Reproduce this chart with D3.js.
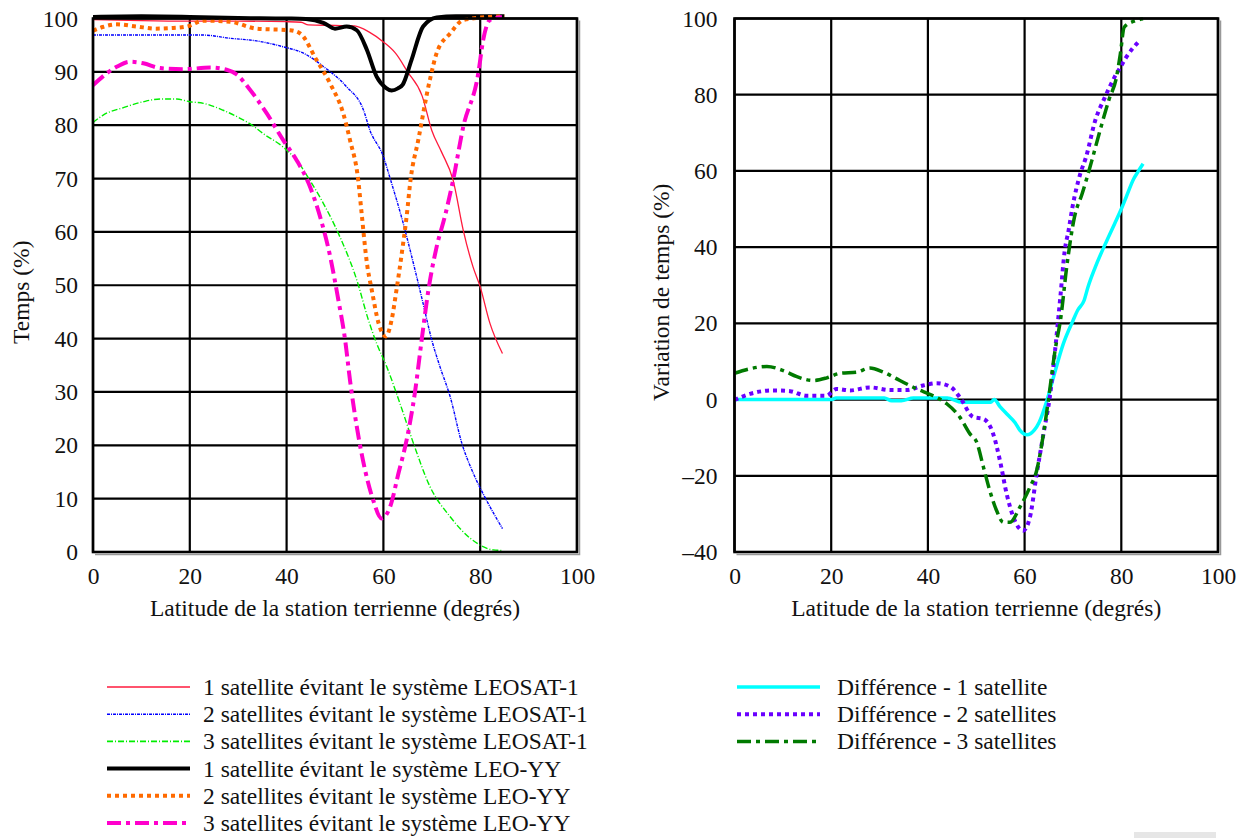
<!DOCTYPE html>
<html><head><meta charset="utf-8">
<script src="https://cdn.jsdelivr.net/npm/d3@7"></script>
<style>body{margin:0;background:#fff}svg text{font-family:"Liberation Serif","Times New Roman",serif;fill:#111}</style>
</head><body>
<svg id="c" width="1241" height="838"></svg>
<script>
// ---------- data ----------
const xTicks = [0, 20, 40, 60, 80, 100];
const yTicksLeft = [0, 10, 20, 30, 40, 50, 60, 70, 80, 90, 100];
const yTicksRight = [-40, -20, 0, 20, 40, 60, 80, 100];

const leosat1 = [[0,99.8],[5,99.7],[10,99.6],[20,99.5],[30,99.5],[40,99.4],[43,99.3],[44.5,98.8],[50,98.7],[54,98.6],[57,97.5],[60,95.6],[62.5,93.5],[65,90],[68,85.5],[70,79],[72,75],[74.4,69.7],[76.5,60.3],[78.5,53.5],[80,49.7],[82,42.9],[84.6,37.2]];
const leosat2 = [[0,96.9],[10,96.9],[22.7,96.9],[28.3,96.3],[33.8,95.8],[39.3,94.7],[43.5,93.5],[47.6,91],[52.4,87.2],[55.9,82.8],[57.2,79.1],[60,74.1],[61.4,70],[64.1,61.6],[66.2,54.1],[68.2,46.6],[70,39.7],[71.7,34.7],[73.8,29.1],[76.2,20.4],[78.6,14.7],[81.3,9.7],[84.6,4.4]];
const leosat3 = [[0,80.5],[2.1,81.9],[6.3,83.3],[10.4,84.4],[13.9,84.9],[17.3,84.9],[20,84.4],[22.8,84.1],[26.9,82.8],[30.4,81.3],[32.4,80.3],[35.2,78.4],[39.3,75.9],[42.1,73.4],[44.8,69.7],[47.2,66],[51,59.1],[54.5,51],[56.9,43.5],[58.6,39.1],[60.7,34.7],[63.4,27.9],[66.2,20.4],[69.6,12.3],[73.8,6.6],[77.9,2.6],[82.7,0.4],[84.6,0.3]];
const leoyy1 = [[0,100.3],[10,100.4],[20,100.3],[30,100.1],[40,100],[44,99.9],[47.6,99.2],[50,98.1],[52.4,98.5],[54.5,97.8],[56.6,94.1],[58.6,89.1],[60.5,87],[61.7,86.5],[63,86.9],[64,87.6],[65.8,92.2],[68.2,98.5],[71,100.2],[75,100.4],[85,100.4]];
const leoyy2 = [[0,97.7],[2,98.4],[4.9,98.9],[9,98.5],[13,98.1],[16,98.2],[19.4,98.5],[22.8,99.6],[28.3,99.4],[33.8,98.1],[40.7,97.8],[42.8,97.2],[46.2,92.2],[49,87.8],[51.7,82.2],[53.1,77.2],[54.8,69.7],[55.5,63.5],[56.6,54.1],[57.6,49.1],[59,42.9],[60.5,40.4],[61.7,43.5],[62.7,49.1],[63.8,56],[64.8,62.9],[65.6,69.7],[67.2,77.2],[69.6,88.5],[71,93.5],[73.8,97.2],[76.5,99.7],[82,100.3],[85,100.4]];
const leoyy3 = [[0,87.5],[2.8,89.7],[5,91],[7.6,91.9],[10.4,91.6],[13.9,90.7],[18.7,90.5],[24.2,90.8],[27.6,90.4],[29.7,89.5],[32.4,86.7],[35.9,82.2],[39.3,77.2],[42.1,73.4],[44.5,69.2],[46.9,62.9],[49,55.4],[50.7,47.2],[52.1,39.7],[53.1,32.2],[54.5,23.5],[56.2,15.4],[57.9,9.7],[59.6,6.3],[61.4,8.5],[63.1,14.7],[64.8,21],[66.5,29.8],[67.9,39.7],[69.3,49.1],[71,57.2],[72.7,62.9],[74.4,69.7],[76.5,79.7],[79.6,89.7],[80.6,95.9],[82,99.7],[84.5,100.3]];

const diff1 = [[0,0],[10,0],[20,0],[21,0.4],[31,0.4],[32.5,-0.3],[34.5,-0.3],[37,0.4],[44,0.4],[47,-0.7],[53,-0.7],[53.7,0],[55,-2],[56.5,-4],[58,-6],[59,-8],[60.5,-9.2],[62,-8],[63,-6],[64.6,-0.3],[66,6],[68,14.6],[70,20.7],[71,23.5],[72.3,26],[73.1,29.5],[74.6,34.7],[77,41.7],[78.6,46.1],[80,50],[81,53.1],[82.6,58],[83.4,59.7],[84.5,61.9]];
const diff2 = [[0,-0.1],[3.2,1.5],[8,2.4],[11.5,2.2],[14.9,1],[19,1],[21.1,2.8],[23.9,2.4],[28,3.2],[32.2,2.5],[35.6,2.5],[39,3.7],[41.8,4.3],[44.6,3.4],[46.6,0.6],[49.4,-4.6],[51.5,-5.1],[53.5,-9],[54.9,-16],[56.3,-24.8],[57.7,-30.9],[59.7,-34.4],[61.1,-30.9],[62.5,-19.5],[63.9,-9],[65.3,1.5],[66.3,12.9],[67.4,27],[68.3,39.1],[69.1,44.4],[69.9,50.5],[71.5,59.2],[72.7,63.6],[74.6,73.2],[76.6,79.3],[78.6,84.6],[79.8,87.2],[81,89.8],[83.8,94.2]];
const diff3 = [[0,6.9],[3.2,8.1],[6.7,8.7],[10.1,7.6],[12.9,6],[16.3,5],[19.1,5.7],[21.8,6.9],[25.3,7.2],[28,8.3],[30.8,7.2],[34.2,5],[37.7,2.8],[41.1,1],[43.9,-1.1],[46.6,-4.6],[48.7,-9],[50.1,-11.2],[51.5,-17.8],[52.8,-23.9],[54.2,-29.1],[55.6,-32.2],[57,-32.2],[59,-28.3],[61.1,-23],[62.5,-18.6],[63.9,-9],[64.9,-0.3],[66.3,12.9],[67.5,21.6],[68.7,34.7],[70.3,47.8],[71.9,54],[73.9,62.7],[75.4,69.7],[77.4,78.5],[79,84.6],[79.8,90.7],[80.6,97.7],[82.6,99.3],[84.5,99.9]];

const leftSeries = [
  {name:"1 satellite évitant le système LEOSAT-1", data:leosat1, color:"#ff1a3c", width:1.3, dash:null},
  {name:"2 satellites évitant le système LEOSAT-1", data:leosat2, color:"#0000ff", width:1.4, dash:"3,1,1,1"},
  {name:"3 satellites évitant le système LEOSAT-1", data:leosat3, color:"#00ee00", width:1.4, dash:"6,2,1,2"},
  {name:"1 satellite évitant le système LEO-YY", data:leoyy1, color:"#000000", width:4, dash:null},
  {name:"2 satellites évitant le système LEO-YY", data:leoyy2, color:"#ff6a00", width:4, dash:"4,4"},
  {name:"3 satellites évitant le système LEO-YY", data:leoyy3, color:"#ff00cc", width:4, dash:"14,5,4,5"}
];
const rightSeries = [
  {name:"Différence - 1 satellite", data:diff1, color:"#00ffff", width:3.5, dash:null},
  {name:"Différence - 2 satellites", data:diff2, color:"#6a00ff", width:4, dash:"4,4"},
  {name:"Différence - 3 satellites", data:diff3, color:"#007a00", width:3.5, dash:"14,5,4,5"}
];

// ---------- drawing ----------
const FS = 23.5;
const svg = d3.select("#c");

function panel(cfg){
  const x = d3.scaleLinear().domain([0,100]).range([cfg.x0, cfg.x1]);
  const y = d3.scaleLinear().domain(cfg.yDomain).range([cfg.y1, cfg.y0]);
  const g = svg.append("g");
  // grid
  g.append("g").selectAll("line").data(xTicks).join("line")
    .attr("x1",d=>x(d)).attr("x2",d=>x(d)).attr("y1",cfg.y0).attr("y2",cfg.y1)
    .attr("stroke","#000").attr("stroke-width",2.2);
  g.append("g").selectAll("line").data(cfg.yTicks).join("line")
    .attr("y1",d=>y(d)).attr("y2",d=>y(d)).attr("x1",cfg.x0).attr("x2",cfg.x1)
    .attr("stroke","#000").attr("stroke-width",2.2);
  // axes (labels)
  const ax = g.append("g").attr("transform",`translate(0,${cfg.y1})`)
    .call(d3.axisBottom(x).tickValues(xTicks).tickSize(0).tickPadding(15).tickFormat(d3.format("d")));
  ax.select(".domain").remove();
  ax.attr("font-family","Liberation Serif").attr("font-size",FS);
  ax.selectAll("text").attr("font-size",FS);
  const ay = g.append("g").attr("transform",`translate(${cfg.x0},0)`)
    .call(d3.axisLeft(y).tickValues(cfg.yTicks).tickSize(0).tickPadding(cfg.ypad).tickFormat(d=> d<0 ? "–"+Math.abs(d) : String(d)));
  ay.select(".domain").remove();
  ay.attr("font-family","Liberation Serif").attr("font-size",FS);
  ay.selectAll("text").attr("font-size",FS);
  // titles
  g.append("text").attr("x",(cfg.x0+cfg.x1)/2).attr("y",cfg.y1+64).attr("text-anchor","middle")
    .attr("font-size",FS).text("Latitude de la station terrienne (degrés)");
  g.append("text").attr("transform",`translate(${cfg.ytx},${(cfg.y0+cfg.y1)/2 + 7}) rotate(-90)`)
    .attr("text-anchor","middle").attr("font-size",FS).text(cfg.ytitle);
  // lines
  const line = d3.line().x(d=>x(d[0])).y(d=>y(d[1])).curve(d3.curveMonotoneX);
  g.append("g").selectAll("path").data(cfg.series).join("path")
    .attr("d",d=>line(d.data)).attr("fill","none")
    .attr("stroke",d=>d.color).attr("stroke-width",d=>d.width)
    .attr("stroke-dasharray",d=>d.dash).attr("stroke-linejoin","round");
  // frame
  g.append("rect").attr("x",cfg.x0).attr("y",cfg.y0).attr("width",cfg.x1-cfg.x0).attr("height",cfg.y1-cfg.y0)
    .attr("fill","none").attr("stroke","#000").attr("stroke-width",2.6);
  g.append("path").attr("d",`M${cfg.x1+2.5},${cfg.y0+2} V${cfg.y1+2.5} H${cfg.x0+2}`)
    .attr("fill","none").attr("stroke","#999").attr("stroke-width",1.5);
}

panel({x0:93, x1:577, y0:18.5, y1:552, yDomain:[0,100], yTicks:yTicksLeft, series:leftSeries, ytitle:"Temps (%)", ytx:29, ypad:15});
panel({x0:734.5, x1:1218, y0:18.5, y1:552, yDomain:[-40,100], yTicks:yTicksRight, series:rightSeries, ytitle:"Variation de temps (%)", ytx:669, ypad:17});

// legends
function legend(items, lx0, lx1, tx, y0, dy){
  const g = svg.append("g");
  const row = g.selectAll("g").data(items).join("g").attr("transform",(d,i)=>`translate(0,${y0+i*dy})`);
  row.append("line").attr("x1",lx0).attr("x2",lx1).attr("y1",0).attr("y2",0)
    .attr("stroke",d=>d.color).attr("stroke-width",d=>Math.max(d.width,1.6)).attr("stroke-dasharray",d=>d.dash);
  row.append("text").attr("x",tx).attr("y",8).attr("font-size",FS).text(d=>d.name);
}
legend(leftSeries, 107, 190, 203, 687, 27.2);
legend(rightSeries, 737, 820, 837, 687, 27.2);

svg.append("rect").attr("x",1134).attr("y",832).attr("width",82).attr("height",6).attr("fill","#e6e6e6");
</script>
</body></html>
